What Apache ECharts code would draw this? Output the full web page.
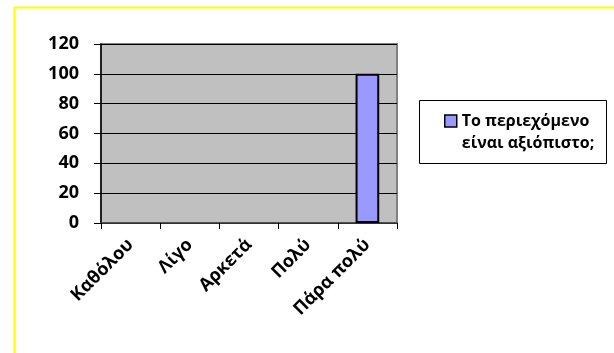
<!DOCTYPE html>
<html>
<head>
<meta charset="utf-8">
<script src="https://cdn.jsdelivr.net/npm/echarts@6/dist/echarts.min.js"></script>
<style>
html,body{margin:0;padding:0;background:#fff;}
#chart{width:614px;height:353px;}
</style>
</head>
<body>
<div id="chart"></div>
<script>
// κατηγορίες και τιμές
var categories = ['Καθόλου', 'Λίγο', 'Αρκετά', 'Πολύ', 'Πάρα πολύ'];
var values = [0, 0, 0, 0, 100];
var seriesName = 'Το περιεχόμενο είναι αξιόπιστο;';
var yTicks = [0, 20, 40, 60, 80, 100, 120];

var fontFam = '"Open Sans", "Noto Sans", sans-serif';

// μηδενικές μπάρες χωρίς περίγραμμα
var barData = values.map(function (v) {
    return v > 0 ? v : { value: v, itemStyle: { borderWidth: 0 } };
});

var myChart = echarts.init(document.getElementById('chart'));
var option = {
    backgroundColor: '#fff',
    animation: false,
    grid: {
        left: 101, top: 44, right: 217, bottom: 130,
        show: true,
        backgroundColor: '#c0c0c0',
        borderColor: '#808080',
        borderWidth: 2
    },
    legend: {
        left: 444, top: 88,
        padding: 0,
        itemWidth: 12, itemHeight: 12,
        icon: 'rect',
        itemStyle: { color: '#9999ff', borderColor: '#000', borderWidth: 1.5 },
        // κενή πρώτη γραμμή ώστε το εικονίδιο να στέκεται στην πρώτη γραμμή κειμένου
        formatter: function () { return ' \nΤο περιεχόμενο\nείναι αξιόπιστο;'; },
        textStyle: {
            fontFamily: fontFam, fontWeight: 'bold', fontSize: 16,
            color: '#000', lineHeight: 22
        },
        data: [seriesName]
    },
    xAxis: {
        type: 'category',
        data: categories,
        axisLine: { lineStyle: { color: '#404040', width: 1.5 } },
        axisTick: { show: true, length: 6, lineStyle: { color: '#000' } },
        axisLabel: {
            rotate: 45, margin: 19, color: '#000',
            fontFamily: fontFam, fontWeight: 'bold', fontSize: 18
        }
    },
    yAxis: {
        type: 'value',
        min: yTicks[0], max: yTicks[yTicks.length - 1], interval: 20,
        axisLine: { show: true, lineStyle: { color: '#000', width: 1.5 } },
        axisTick: { show: true, length: 7, lineStyle: { color: '#000' } },
        splitLine: { lineStyle: { color: '#000', width: 1 } },
        axisLabel: {
            margin: 22, color: '#000',
            fontFamily: fontFam, fontWeight: 'bold', fontSize: 18
        }
    },
    series: [{
        name: seriesName,
        type: 'bar',
        data: barData,
        barWidth: '40%',
        itemStyle: { color: '#9999ff', borderColor: '#000', borderWidth: 2 }
    }],
    graphic: [
        // κίτρινο πλαίσιο
        { type: 'rect', left: 12, top: 5, shape: { width: 640, height: 400 },
          style: { fill: null, stroke: '#ffff00', lineWidth: 2 }, z: 100 },
        // πλαίσιο υπομνήματος
        { type: 'rect', left: 419, top: 100, shape: { width: 187, height: 63 },
          style: { fill: '#fff', stroke: '#000', lineWidth: 1 }, z: -1 }
    ]
};
myChart.setOption(option);
</script>
</body>
</html>
